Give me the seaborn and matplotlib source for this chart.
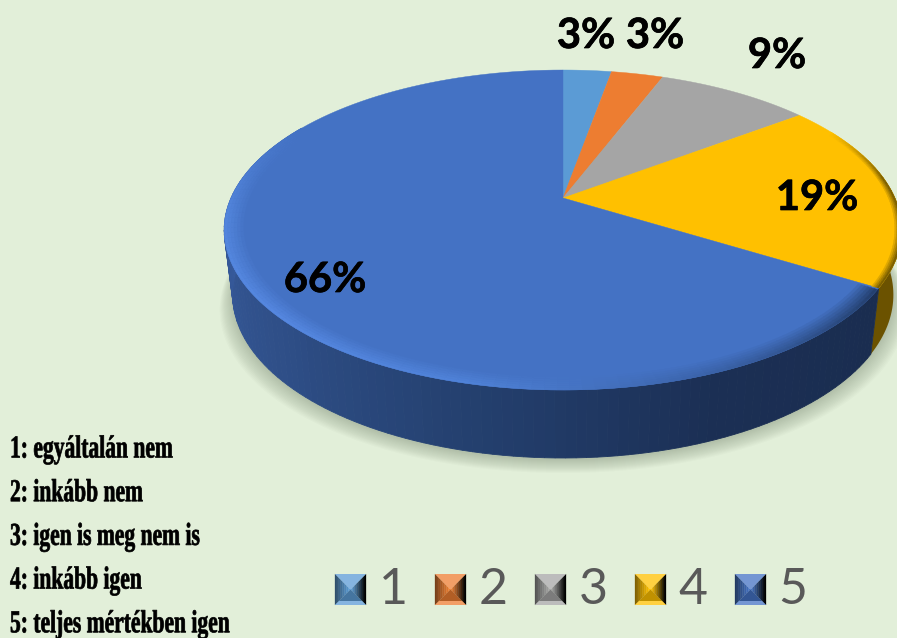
import numpy as np
import matplotlib.pyplot as plt
import matplotlib.colors as mc
import matplotlib.patheffects as pe
from matplotlib.transforms import Affine2D
import seaborn as sns

# adatok
categories = ["1", "2", "3", "4", "5"]
shares = [2.8, 3.0, 8.9, 19.1, 66.2]
pct_labels = ["3%", "3%", "9%", "19%", "66%"]
answers = ["1: egyáltalán nem", "2: inkább nem", "3: igen is meg nem is",
           "4: inkább igen", "5: teljes mértékben igen"]
colors = ["#5B9BD5", "#ED7D31", "#A5A5A5", "#FFC000", "#4472C4"]

bg = "#E2EFD9"
sns.set_theme(style="white")
plt.rcParams["font.family"] = ["Lato", "DejaVu Sans"]
pal = sns.color_palette(colors)

fig = plt.figure(figsize=(8.97, 6.38), dpi=100, facecolor=bg)
ax = fig.add_axes([0, 0, 1, 1])
ax.set_xlim(0, 897)
ax.set_ylim(638, 0)
ax.axis("off")

CX, CY, R, TILT = 563, 198, 332, 0.2


# keskenyített, kicsit vastagított betűk (a referencia szövege condensed)
class Squeeze(pe.AbstractPathEffect):
    def __init__(self, sx, x0):
        super().__init__()
        self.sx, self.x0 = sx, x0

    def draw_path(self, renderer, gc, tpath, affine, rgbFace=None):
        tr = affine + Affine2D().translate(-self.x0, 0).scale(self.sx, 1).translate(self.x0, 0)
        gc0 = renderer.new_gc()
        gc0.copy_properties(gc)
        gc0.set_foreground("black")
        gc0.set_linewidth(0.5)
        renderer.draw_path(gc0, tpath, tr, rgbFace)
        gc0.restore()


# kör -> perspektivikus kép (theta: fok, 12 órától óramutató szerint)
def top(theta, r=1.0):
    t = np.radians(theta)
    x, y = r * np.sin(t), r * np.cos(t)
    w = 1 + TILT * y
    return CX + R * x / w, (CY - 114 * y) / w


def bottom(theta):
    X, Y = top(theta)
    y = np.cos(np.radians(theta))
    return CX + (X - CX) * 0.975, Y + 64 - 4 * y


ends = np.cumsum(shares) / np.sum(shares) * 360
starts = np.r_[0, ends[:-1]]

# árnyék
all_t = np.linspace(0, 360, 240)
bx, by = bottom(all_t)
for k in range(14):
    s = 1.0 + 0.003 * k
    ax.fill(CX + (bx - CX) * s, by + 2 + k * 1.0, color="#5f6f58", alpha=0.028, lw=0, zorder=1)

# oldalfal
side_5 = sns.blend_palette(["#1a2d50", "#1b2f54", "#24406f", "#2f4f88", "#36599a", "#3f6cb8"], 120)
t_side5 = np.linspace(ends[3], 300, 121)
for i in range(120):
    a, b = t_side5[i], t_side5[i + 1]
    xa, ya = top(a)
    xb, yb = top(b)
    xc, yc = bottom(b)
    xd, yd = bottom(a)
    ax.fill([xa, xb, xc, xd], [ya, yb, yc, yd], color=side_5[i], ec=side_5[i], lw=0.6, zorder=2)
t_side4 = np.linspace(75, ends[3], 40)
xa, ya = top(t_side4)
xd, yd = bottom(t_side4)
ax.fill(np.r_[xa, xd[::-1]], np.r_[ya, yd[::-1]], color="#6B5200", lw=0, zorder=1.5)

# felső lap
for i, c in enumerate(pal):
    t = np.linspace(starts[i], ends[i], 120)
    x, y = top(t)
    ax.fill(np.r_[CX, x], np.r_[CY, y], color=c, ec=c, lw=0.3, zorder=3)

# perem fénye
face5 = np.array(mc.to_rgb(colors[4]))
rim5 = sns.blend_palette(["#24406f", "#3a62a8", "#4f82d8", "#5587e0", "#5285dc", "#4472C4"], 100)
t_rim = np.linspace(ends[3] + 0.5, 300, 101)
radii = np.linspace(0.945, 1.0, 7)
for j in range(6):
    w = (j + 1) / 6
    for i in range(100):
        col = face5 * (1 - w) + np.array(rim5[i]) * w
        ta = np.linspace(t_rim[i], t_rim[i + 1], 3)
        x1, y1 = top(ta, radii[j])
        x2, y2 = top(ta[::-1], radii[j + 1])
        ax.fill(np.r_[x1, x2], np.r_[y1, y2], color=col, ec=col, lw=0.3, zorder=4)

face4 = np.array(mc.to_rgb(colors[3]))
edge4 = np.array(mc.to_rgb("#7A5E00"))
t_rim4 = np.linspace(62, ends[3], 60)
radii4 = np.linspace(0.98, 1.0, 5)
for j in range(4):
    w = (j + 1) / 4
    for i in range(59):
        f = min(1.0, i / 20)
        col = face4 * (1 - w * f) + edge4 * w * f
        ta = t_rim4[i:i + 2]
        x1, y1 = top(ta, radii4[j])
        x2, y2 = top(ta[::-1], radii4[j + 1])
        ax.fill(np.r_[x1, x2], np.r_[y1, y2], color=col, ec=col, lw=0.3, zorder=4)

# százalékok
label_pos = [(586, 36), (655, 36), (777, 56), (817, 198), (325, 280)]
for txt, (lx, ly) in zip(pct_labels, label_pos):
    ax.text(lx, ly, txt, fontsize=30, fontweight="bold", color="black",
            ha="center", va="center", zorder=6,
            path_effects=[pe.withStroke(linewidth=0.5, foreground="black")])

# jelmagyarázat
ICON = 31
for i, (cat, c) in enumerate(zip(categories, colors)):
    x0, y0 = 335 + 100 * i, 574
    base = sns.blend_palette(["black", c, "white"], 9)
    mx, my = x0 + ICON / 2, y0 + ICON / 2
    x1, y1 = x0 + ICON, y0 + ICON
    # bal és jobb oldal színátmenettel
    left = sns.blend_palette([base[2], base[4]], 8)
    right = sns.blend_palette([base[4], base[0]], 8)
    for k in range(8):
        a, b = k / 8, (k + 1) / 8
        ax.fill([x0 + a * ICON / 2, x0 + b * ICON / 2, x0 + b * ICON / 2, x0 + a * ICON / 2],
                [y0 + a * ICON / 2, y0 + b * ICON / 2, y1 - b * ICON / 2, y1 - a * ICON / 2],
                color=left[k], ec=left[k], lw=0.2, zorder=5)
        ax.fill([mx + a * ICON / 2, mx + b * ICON / 2, mx + b * ICON / 2, mx + a * ICON / 2],
                [my - a * ICON / 2, my - b * ICON / 2, my + b * ICON / 2, my + a * ICON / 2],
                color=right[k], ec=right[k], lw=0.2, zorder=5)
    ax.fill([x0, x1, mx], [y0, y0, my], color=base[5], lw=0, zorder=5)
    ax.fill([x0, x1, mx], [y1, y1, my], color=base[3], lw=0, zorder=5)
    ax.fill([x0 + 4, x1 - 4, x1, x0], [y1 - 4, y1 - 4, y1, y1], color=base[5], lw=0, zorder=5)
    ax.text(x0 + 58, y0 + 16, cat, fontsize=36, color="#595959",
            ha="center", va="center", zorder=6)

# válaszok
for i, txt in enumerate(answers):
    ax.text(10, 450 + 43.7 * i, txt, fontsize=23, fontweight="bold", color="black",
            ha="left", va="center", family=["Liberation Serif", "DejaVu Serif"], zorder=6,
            path_effects=[Squeeze(0.675, 10)])

plt.savefig("out.png", dpi=100, facecolor=bg)
